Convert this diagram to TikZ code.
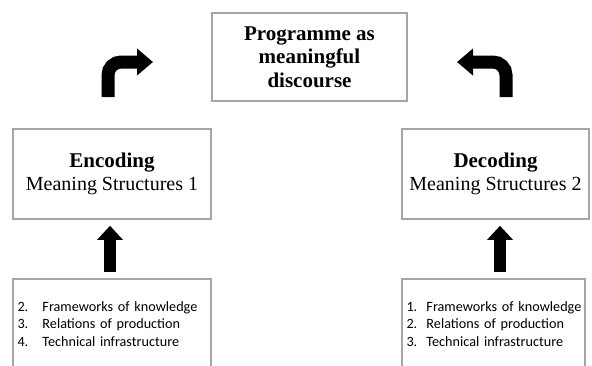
\documentclass[tikz,border=0pt]{standalone}
\usepackage{fontspec}
\setmainfont{Liberation Serif}
\newfontfamily\listfont{Carlito}
\usepackage{tikz}
\usetikzlibrary{arrows.meta,positioning}

\tikzset{
  box/.style={draw={rgb, 255:red, 165; green, 165; blue, 165 }, line width=1.6, inner sep=0pt, minimum height=90, align=center},
  serif/.style={font=\fontsize{20}{23.5}\selectfont},
  listbox/.style={box, align=left, font=\listfont\fontsize{14.2}{17.6}\selectfont},
  uparrow/.style={line width=12, -{Triangle[length=14pt, width=25pt]}, shorten <=6, shorten >=6},
  bentarrow/.style={line width=13, rounded corners=13, -{Triangle[length=16pt, width=26pt]}}
}
\newcommand{\itm}[3]{\mbox{\hspace*{4pt}\makebox[#1][l]{#2}#3}}
\newcommand{\bigb}[1]{{\fontsize{21}{23.5}\selectfont\textbf{#1}}}

\begin{document}
\begin{tikzpicture}[x=1pt,y=1pt,yscale=-1,xscale=1]
\clip (0,0) rectangle (592,365);

%Shape: Rectangle [top]
\node[box, serif, minimum width=195, minimum height=88] (prog) at (309.5,57) {\bigb{Programme as}\\\bigb{meaningful}\\\bigb{discourse}};

%Shape: Rectangle [middle]
\node[box, serif, minimum width=198] (enc) at (112,174) {\bigb{Encoding}\\Meaning Structures 1};
\node[box, serif, minimum width=187] (dec) at (495.5,174) {\bigb{Decoding}\\Meaning Structures 2};

%Shape: Rectangle [bottom, runs off the page]
\node[listbox, minimum width=198, text width=197] (encList) at (112,324) {\itm{25pt}{2.}{Frameworks of knowledge}\\\itm{25pt}{3.}{Relations of production}\\\itm{25pt}{4.}{Technical infrastructure}};
\node[listbox, minimum width=183, text width=182] (decList) at (493.5,324) {\itm{20pt}{1.}{Frameworks of knowledge}\\\itm{20pt}{2.}{Relations of production}\\\itm{20pt}{3.}{Technical infrastructure}};

%Straight Lines [up]
\draw[uparrow] (encList.north -| 110,0) -- (enc.south -| 110,0);
\draw[uparrow] (decList.north -| 500,0) -- (dec.south -| 500,0);

%Bent arrows
\coordinate (encFrom) at (108,97);
\coordinate (encTo) at (153,62);
\coordinate (decFrom) at (506,97);
\coordinate (decTo) at (457,62);
\draw[bentarrow] (encFrom) |- (encTo);
\draw[bentarrow] (decFrom) |- (decTo);

\end{tikzpicture}
\end{document}
